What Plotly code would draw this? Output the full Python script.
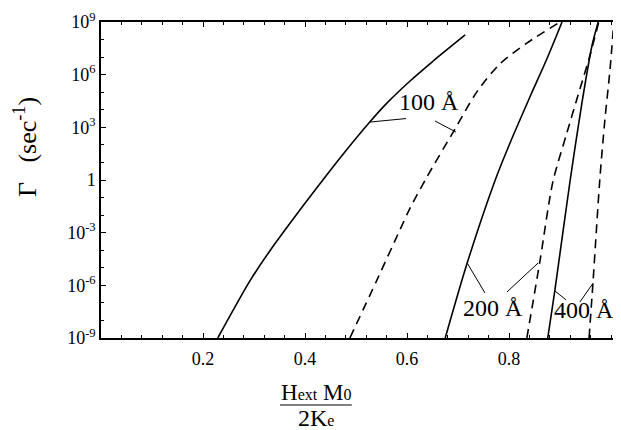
import numpy as np
import plotly.graph_objects as go

# ---- data (x = Hext*M0/2Ke, y = log10 Gamma) ----
s100_x = [0.229, 0.292, 0.331, 0.390, 0.435, 0.475, 0.527, 0.561, 0.606, 0.649, 0.714]
s100_y = [-9.0, -5.75, -4.04, -1.71, 0.0, 1.48, 3.30, 4.39, 5.64, 6.72, 8.26]
d100_x = [0.488, 0.541, 0.586, 0.606, 0.639, 0.694, 0.737, 0.782, 0.835, 0.900]
d100_y = [-9.0, -5.70, -2.85, -1.60, 0.17, 2.90, 5.02, 6.61, 7.80, 9.0]
s200_x = [0.675, 0.718, 0.773, 0.802, 0.841, 0.875, 0.904]
s200_y = [-9.0, -4.73, 0.0, 2.11, 4.73, 6.95, 9.0]
d200_x = [0.835, 0.861, 0.886, 0.914, 0.939, 0.959, 0.976]
d200_y = [-9.0, -4.56, -0.11, 2.73, 5.18, 7.12, 9.0]
s400_x = [0.876, 0.890, 0.920, 0.943, 0.963, 0.975]
s400_y = [-9.0, -6.27, 0.0, 4.39, 7.69, 9.0]
d400_x = [0.957, 0.965, 0.978, 0.988, 0.998, 1.005]
d400_y = [-9.0, -5.70, 0.0, 3.42, 6.27, 8.80]

# labels and leader lines
label_text = ["100 Å", "200 Å", "400 Å"]
label_x = [0.643, 0.769, 0.947]
label_y = [4.44, -7.29, -7.40]
leader_x = [[0.527, 0.598], [0.655, 0.696], [0.718, 0.753], [0.796, 0.857],
            [0.890, 0.912], [0.939, 0.965]]
leader_y = [[3.30, 3.50], [3.36, 2.73], [-4.73, -6.44], [-6.38, -4.73],
            [-6.32, -6.83], [-6.95, -5.87]]

y_tick_exp = [-9, -6, -3, 0, 3, 6, 9]
y_tick_text = ["10<sup>-9</sup>", "10<sup>-6</sup>", "10<sup>-3</sup>", "1",
               "10<sup>3</sup>", "10<sup>6</sup>", "10<sup>9</sup>"]
x_tick_vals = [0.2, 0.4, 0.6, 0.8]
x_tick_text = ["0.2", "0.4", "0.6", "0.8"]

FONT = "Liberation Serif"
DASH = "9px,6px"
fig = go.Figure()

curves = [(s100_x, s100_y, "solid"), (d100_x, d100_y, DASH),
          (s200_x, s200_y, "solid"), (d200_x, d200_y, DASH),
          (s400_x, s400_y, "solid"), (d400_x, d400_y, DASH)]
for xs, ys, dash in curves:
    fig.add_trace(go.Scatter(x=xs, y=10 ** np.array(ys), mode="lines",
                             line=dict(color="black", width=1.6, dash=dash,
                                       shape="spline", smoothing=0.8),
                             showlegend=False, hoverinfo="skip"))
for lx, ly in zip(leader_x, leader_y):
    fig.add_trace(go.Scatter(x=lx, y=10 ** np.array(ly), mode="lines",
                             line=dict(color="black", width=1),
                             showlegend=False, hoverinfo="skip"))
for t, x, y in zip(label_text, label_x, label_y):
    fig.add_annotation(x=x, y=y, text=t, showarrow=False,
                       xanchor="center", yanchor="middle",
                       font=dict(family=FONT, size=24, color="black"))

# y title
fig.add_annotation(xref="paper", yref="paper", x=-0.144, y=0.604,
                   xanchor="center", yanchor="middle",
                   text="Γ\u00a0\u00a0\u00a0(sec<sup>-1</sup>)", textangle=-90, showarrow=False,
                   font=dict(family=FONT, size=26, color="black"))
# x title as a fraction
fig.add_annotation(xref="paper", yref="paper", x=0.407, y=-0.171,
                   xanchor="center", yanchor="middle",
                   text="H<span style='font-size:16px'>ext</span> M<span style='font-size:16px'>0</span>",
                   showarrow=False, font=dict(family=FONT, size=23, color="black"))
fig.add_annotation(xref="paper", yref="paper", x=0.407, y=-0.253,
                   xanchor="center", yanchor="middle",
                   text="2K<span style='font-size:16px'>e</span>",
                   showarrow=False, font=dict(family=FONT, size=24, color="black"))
fig.add_shape(type="line", xref="paper", yref="paper", x0=0.339, x1=0.475,
              y0=-0.212, y1=-0.212, line=dict(color="black", width=1))

fig.update_layout(
    width=621, height=430,
    margin=dict(l=93, r=0, t=14, b=100),
    paper_bgcolor="white", plot_bgcolor="white",
    font=dict(family=FONT, color="black"),
    xaxis=dict(range=[0, 1.0353], showgrid=False, zeroline=False,
               showline=True, linecolor="black", linewidth=1.5, mirror="ticks",
               tickvals=x_tick_vals, ticktext=x_tick_text, ticks="inside",
               ticklen=5, tickcolor="black", tickfont=dict(family=FONT, size=18),
               ticklabelstandoff=4,
               minor=dict(dtick=0.04, tick0=0, ticks="inside", ticklen=3, tickcolor="black")),
    yaxis=dict(type="log", range=[-9, 9], showgrid=False, zeroline=False,
               showline=True, linecolor="black", linewidth=1.5,
               tickvals=[10.0 ** e for e in y_tick_exp], ticktext=y_tick_text,
               ticks="inside", ticklen=5, tickcolor="black",
               tickfont=dict(family=FONT, size=18),
               minor=dict(dtick=1, ticks="inside", ticklen=3, tickcolor="black")),
)
fig.write_html("out.html")
